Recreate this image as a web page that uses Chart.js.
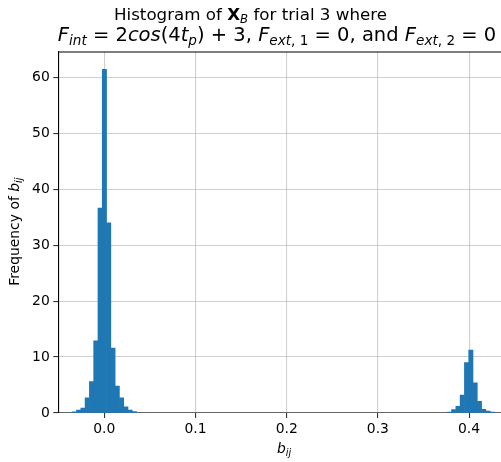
<!DOCTYPE html>
<html>
<head>
<meta charset="utf-8">
<script src="https://cdn.jsdelivr.net/npm/chart.js@4/dist/chart.umd.min.js"></script>
<style>
  html, body { margin: 0; padding: 0; background: #fff; }
</style>
</head>
<body>
<canvas id="hist" width="501" height="462"></canvas>
<script>
// histogram bins (density)
const binWidth = 0.0047;
const leftStart = -0.0351;
const leftFreq = [0.2, 0.5, 0.9, 2.7, 5.6, 12.9, 36.6, 61.4, 34.0, 11.6, 4.8, 2.7, 1.1, 0.5, 0.25];
const rightStart = 0.3761;
const rightFreq = [0.18, 0.6, 1.2, 3.2, 9.0, 11.25, 5.4, 2.1, 0.65, 0.35, 0.18];
const xTicks = [0.0, 0.1, 0.2, 0.3, 0.4];
const yTicks = [0, 10, 20, 30, 40, 50, 60];

const FAM = '"DejaVu Sans", sans-serif';

function binsToPoints(start, freq){
  return freq.map((v, i) => ({ x: start + (i + 0.5) * binWidth, y: v }));
}
const points = binsToPoints(leftStart, leftFreq).concat(binsToPoints(rightStart, rightFreq));

// draws a line of mixed-font text (for sub/italic pieces)
function drawRuns(ctx, runs, x, y, align){
  let total = 0;
  runs.forEach(r => { ctx.font = r.font; r.w = ctx.measureText(r.t).width; total += r.w; });
  let cx = align === 'center' ? x - total / 2 : x;
  ctx.textAlign = 'left';
  ctx.textBaseline = 'alphabetic';
  runs.forEach(r => {
    ctx.font = r.font;
    ctx.fillText(r.t, cx, y + (r.dy || 0));
    cx += r.w;
  });
}

const T = 16.7, TS = 11.7;     // title line 1
const M = 19.5, MS = 13.6;     // title line 2 (math)
const L = 13.9, LS = 9.7;      // axis labels
const n = s => `${s}px ${FAM}`;
const it = s => `italic ${s}px ${FAM}`;

const textPlugin = {
  id: 'textPlugin',
  afterDraw(chart){
    const ctx = chart.ctx;
    const a = chart.chartArea;
    ctx.save();
    // top spine
    ctx.strokeStyle = '#000';
    ctx.lineWidth = 1.1;
    ctx.beginPath();
    ctx.moveTo(a.left, a.top);
    ctx.lineTo(a.right, a.top);
    ctx.stroke();

    ctx.fillStyle = '#000';
    drawRuns(ctx, [
      { t: 'Histogram of ', font: n(T) },
      { t: 'X', font: `bold ${T}px ${FAM}` },
      { t: 'B', font: it(TS), dy: 3 },
      { t: ' for trial 3 where', font: n(T) }
    ], 250.5, 20, 'center');

    drawRuns(ctx, [
      { t: 'F', font: it(M) },
      { t: 'int', font: it(MS), dy: 4 },
      { t: ' = 2', font: n(M) },
      { t: 'cos', font: it(M) },
      { t: '(4', font: n(M) },
      { t: 't', font: it(M) },
      { t: 'p', font: it(MS), dy: 4 },
      { t: ') + 3, ', font: n(M) },
      { t: 'F', font: it(M) },
      { t: 'ext', font: it(MS), dy: 4 },
      { t: ', 1', font: n(MS), dy: 4 },
      { t: ' = 0, and ', font: n(M) },
      { t: 'F', font: it(M) },
      { t: 'ext', font: it(MS), dy: 4 },
      { t: ', 2', font: n(MS), dy: 4 },
      { t: ' = 0', font: n(M) }
    ], 277, 40.5, 'center');

    // x label
    drawRuns(ctx, [
      { t: 'b', font: it(L) },
      { t: 'ij', font: it(LS), dy: 3 }
    ], 284, 453, 'center');

    // y label
    ctx.translate(19, 231.7);
    ctx.rotate(-Math.PI / 2);
    drawRuns(ctx, [
      { t: 'Frequency of ', font: n(L) },
      { t: 'b', font: it(L) },
      { t: 'ij', font: it(LS), dy: 3 }
    ], 0, 0, 'center');
    ctx.restore();
  }
};

const gridColor = 'rgba(176,176,176,0.6)';

new Chart(document.getElementById('hist'), {
  type: 'bar',
  data: {
    datasets: [{
      data: points,
      backgroundColor: '#1f77b4',
      borderWidth: 0,
      barPercentage: 1,
      categoryPercentage: 1
    }]
  },
  options: {
    responsive: false,
    animation: false,
    devicePixelRatio: 1,
    layout: { padding: { top: 52, right: 0, left: 0, bottom: 0 } },
    plugins: { legend: { display: false }, tooltip: { enabled: false } },
    scales: {
      x: {
        type: 'linear',
        min: -0.0504,
        max: 0.435,
        offset: false,
        z: 1,
        afterFit(s){ s.height = 49; },
        afterBuildTicks(s){ s.ticks = xTicks.map(v => ({ value: v })); },
        ticks: {
          callback: v => v.toFixed(1),
          font: { family: FAM, size: L },
          color: '#000',
          padding: 3,
          maxRotation: 0,
          autoSkip: false
        },
        grid: { offset: false, color: gridColor, lineWidth: 1.1, tickLength: 5, tickColor: '#333' },
        border: { color: '#666', width: 1.1 }
      },
      y: {
        min: 0,
        max: 64.5,
        z: 1,
        afterFit(s){ s.width = 58.3; },
        afterBuildTicks(s){ s.ticks = yTicks.map(v => ({ value: v })); },
        ticks: {
          font: { family: FAM, size: L },
          color: '#000',
          padding: 3.5,
          autoSkip: false
        },
        grid: { color: gridColor, lineWidth: 1.1, tickLength: 5, tickColor: '#333' },
        border: { color: '#000', width: 1.1 }
      }
    }
  },
  plugins: [textPlugin]
});
</script>
</body>
</html>
